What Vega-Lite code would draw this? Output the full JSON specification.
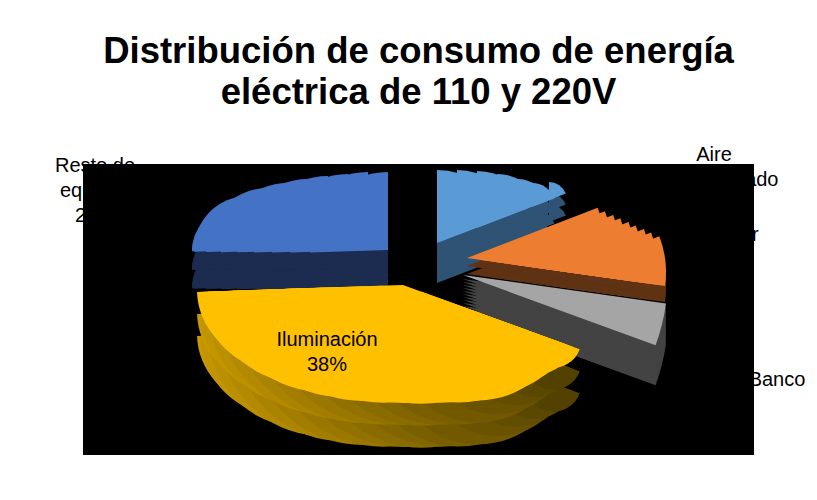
{"$schema":"https://vega.github.io/schema/vega-lite/v6.json","width":671,"height":291,"padding":{"left":83,"top":164,"right":63,"bottom":45},"autosize":{"type":"none"},"background":"white","view":{"fill":"black","stroke":null},
"title":{"text":["Distribución de consumo de energía","eléctrica de 110 y 220V"],"font":"Liberation Sans","fontSize":36.5,"fontWeight":"bold","color":"black","anchor":"middle","offset":-3,"lineHeight":41,"baseline":"bottom"},
"data":{"values":[{"name":"Aire acondicionado","label":"Aire\nacondicionado\n13%","value":13,"order":1},{"name":"Motor","label":"Motor\n15%","value":15,"order":2},{"name":"Banco","label":"Banco","value":8,"order":3},{"name":"Iluminación","label":"Iluminación\n38%","value":38,"order":4},{"name":"Resto de equipos","label":"Resto de\nequipos\n26%","value":26,"order":5}]},
"transform":[{"stack":"value","sort":[{"field":"order"}],"as":["v0","v1"]}],
"encoding":{"theta":{"field":"v0","type":"quantitative","stack":null,"scale":{"domain":[0,13,28,36,74,100],"range":[0,1.204,1.71,1.92,4.68,6.283]}},"theta2":{"field":"v1"}},
"layer":[
{"transform":[{"filter":"datum.order==1"}],"layer":[
{"mark":{"type":"arc","outerRadius":73,"fill":"#2F5375","xOffset":18.5,"yOffset":-26.5}},{"mark":{"type":"arc","outerRadius":65,"fill":"#2F5375","xOffset":38.5,"yOffset":-37.5}},{"mark":{"type":"arc","outerRadius":57,"fill":"#2F5375","xOffset":58.5,"yOffset":-47.5}},{"mark":{"type":"arc","outerRadius":46,"fill":"#2F5375","xOffset":78.5,"yOffset":-58.5}},{"mark":{"type":"arc","outerRadius":33,"fill":"#2F5375","xOffset":98.5,"yOffset":-69.5}},{"mark":{"type":"arc","outerRadius":24,"fill":"#2F5375","xOffset":113.5,"yOffset":-77.5}},{"mark":{"type":"arc","outerRadius":18,"fill":"#2F5375","xOffset":130.5,"yOffset":-87.5}},
{"mark":{"type":"arc","outerRadius":73,"fill":"#2F5375","xOffset":18.5,"yOffset":-46.5}},{"mark":{"type":"arc","outerRadius":65,"fill":"#2F5375","xOffset":38.5,"yOffset":-56}},{"mark":{"type":"arc","outerRadius":57,"fill":"#2F5375","xOffset":58.5,"yOffset":-64.5}},{"mark":{"type":"arc","outerRadius":46,"fill":"#2F5375","xOffset":78.5,"yOffset":-74}},{"mark":{"type":"arc","outerRadius":33,"fill":"#2F5375","xOffset":98.5,"yOffset":-83.5}},{"mark":{"type":"arc","outerRadius":24,"fill":"#2F5375","xOffset":113.5,"yOffset":-90}},{"mark":{"type":"arc","outerRadius":18,"fill":"#2F5375","xOffset":130.5,"yOffset":-98.5}},
{"mark":{"type":"arc","outerRadius":73,"fill":"#5B9BD5","xOffset":18.5,"yOffset":-66.5}},{"mark":{"type":"arc","outerRadius":65,"fill":"#5B9BD5","xOffset":38.5,"yOffset":-74.5}},{"mark":{"type":"arc","outerRadius":57,"fill":"#5B9BD5","xOffset":58.5,"yOffset":-81.5}},{"mark":{"type":"arc","outerRadius":46,"fill":"#5B9BD5","xOffset":78.5,"yOffset":-89.5}},{"mark":{"type":"arc","outerRadius":33,"fill":"#5B9BD5","xOffset":98.5,"yOffset":-97.5}},{"mark":{"type":"arc","outerRadius":24,"fill":"#5B9BD5","xOffset":113.5,"yOffset":-102.5}},{"mark":{"type":"arc","outerRadius":18,"fill":"#5B9BD5","xOffset":130.5,"yOffset":-109.5}}]},
{"transform":[{"filter":"datum.order==5"}],"layer":[
{"mark":{"type":"arc","outerRadius":78,"fill":"#1B2C50","xOffset":-30.5,"yOffset":-22.5}},{"mark":{"type":"arc","outerRadius":78,"fill":"#1B2C50","xOffset":-50.5,"yOffset":-22.5}},{"mark":{"type":"arc","outerRadius":76,"fill":"#1B2C50","xOffset":-70.5,"yOffset":-22.5}},{"mark":{"type":"arc","outerRadius":74,"fill":"#1B2C50","xOffset":-90.5,"yOffset":-22.5}},{"mark":{"type":"arc","outerRadius":71,"fill":"#1B2C50","xOffset":-110.5,"yOffset":-22.5}},{"mark":{"type":"arc","outerRadius":67,"fill":"#1B2C50","xOffset":-130.5,"yOffset":-22.5}},{"mark":{"type":"arc","outerRadius":62,"fill":"#1B2C50","xOffset":-150.5,"yOffset":-22.5}},{"mark":{"type":"arc","outerRadius":54,"fill":"#1B2C50","xOffset":-170.5,"yOffset":-22.5}},{"mark":{"type":"arc","outerRadius":41,"fill":"#1B2C50","xOffset":-185.5,"yOffset":-22.5}},{"mark":{"type":"arc","outerRadius":26,"fill":"#1B2C50","xOffset":-200.5,"yOffset":-22.5}},
{"mark":{"type":"arc","outerRadius":78,"fill":"#1B2C50","xOffset":-30.5,"yOffset":-41}},{"mark":{"type":"arc","outerRadius":78,"fill":"#1B2C50","xOffset":-50.5,"yOffset":-41}},{"mark":{"type":"arc","outerRadius":76,"fill":"#1B2C50","xOffset":-70.5,"yOffset":-41}},{"mark":{"type":"arc","outerRadius":74,"fill":"#1B2C50","xOffset":-90.5,"yOffset":-41}},{"mark":{"type":"arc","outerRadius":71,"fill":"#1B2C50","xOffset":-110.5,"yOffset":-41}},{"mark":{"type":"arc","outerRadius":67,"fill":"#1B2C50","xOffset":-130.5,"yOffset":-41}},{"mark":{"type":"arc","outerRadius":62,"fill":"#1B2C50","xOffset":-150.5,"yOffset":-41}},{"mark":{"type":"arc","outerRadius":54,"fill":"#1B2C50","xOffset":-170.5,"yOffset":-41}},{"mark":{"type":"arc","outerRadius":41,"fill":"#1B2C50","xOffset":-185.5,"yOffset":-41}},{"mark":{"type":"arc","outerRadius":26,"fill":"#1B2C50","xOffset":-200.5,"yOffset":-41}},
{"mark":{"type":"arc","outerRadius":78,"fill":"#4472C4","xOffset":-30.5,"yOffset":-59.5}},{"mark":{"type":"arc","outerRadius":78,"fill":"#4472C4","xOffset":-50.5,"yOffset":-59.5}},{"mark":{"type":"arc","outerRadius":76,"fill":"#4472C4","xOffset":-70.5,"yOffset":-59.5}},{"mark":{"type":"arc","outerRadius":74,"fill":"#4472C4","xOffset":-90.5,"yOffset":-59.5}},{"mark":{"type":"arc","outerRadius":71,"fill":"#4472C4","xOffset":-110.5,"yOffset":-59.5}},{"mark":{"type":"arc","outerRadius":67,"fill":"#4472C4","xOffset":-130.5,"yOffset":-59.5}},{"mark":{"type":"arc","outerRadius":62,"fill":"#4472C4","xOffset":-150.5,"yOffset":-59.5}},{"mark":{"type":"arc","outerRadius":54,"fill":"#4472C4","xOffset":-170.5,"yOffset":-59.5}},{"mark":{"type":"arc","outerRadius":41,"fill":"#4472C4","xOffset":-185.5,"yOffset":-59.5}},{"mark":{"type":"arc","outerRadius":26,"fill":"#4472C4","xOffset":-200.5,"yOffset":-59.5}}]},
{"transform":[{"filter":"datum.order==3"}],"layer":[
{"mark":{"type":"arc","outerRadius":205,"fill":"#434343","xOffset":44.5,"yOffset":5.5}},{"mark":{"type":"arc","outerRadius":205,"fill":"#434343","xOffset":44.5,"yOffset":2.5}},{"mark":{"type":"arc","outerRadius":205,"fill":"#434343","xOffset":44.5,"yOffset":-0.5}},{"mark":{"type":"arc","outerRadius":205,"fill":"#434343","xOffset":44.5,"yOffset":-3.5}},{"mark":{"type":"arc","outerRadius":205,"fill":"#434343","xOffset":44.5,"yOffset":-6.5}},{"mark":{"type":"arc","outerRadius":205,"fill":"#434343","xOffset":44.5,"yOffset":-9.5}},{"mark":{"type":"arc","outerRadius":205,"fill":"#434343","xOffset":44.5,"yOffset":-12.5}},{"mark":{"type":"arc","outerRadius":205,"fill":"#434343","xOffset":44.5,"yOffset":-15.5}},{"mark":{"type":"arc","outerRadius":205,"fill":"#434343","xOffset":44.5,"yOffset":-18.5}},{"mark":{"type":"arc","outerRadius":205,"fill":"#434343","xOffset":44.5,"yOffset":-21.5}},{"mark":{"type":"arc","outerRadius":205,"fill":"#434343","xOffset":44.5,"yOffset":-24.5}},{"mark":{"type":"arc","outerRadius":205,"fill":"#434343","xOffset":44.5,"yOffset":-27.5}},{"mark":{"type":"arc","outerRadius":205,"fill":"#434343","xOffset":44.5,"yOffset":-30.5}},
{"mark":{"type":"arc","outerRadius":205,"fill":"#A5A5A5","xOffset":44.5,"yOffset":-34.5}}]},
{"transform":[{"filter":"datum.order==2"}],"layer":[
{"mark":{"type":"arc","outerRadius":140,"fill":"#5F3214","xOffset":48.5,"yOffset":-35.5}},{"mark":{"type":"arc","outerRadius":135,"fill":"#5F3214","xOffset":60.4,"yOffset":-33.8}},{"mark":{"type":"arc","outerRadius":130,"fill":"#5F3214","xOffset":73.3,"yOffset":-32}},{"mark":{"type":"arc","outerRadius":125,"fill":"#5F3214","xOffset":85.1,"yOffset":-30.3}},{"mark":{"type":"arc","outerRadius":120,"fill":"#5F3214","xOffset":98,"yOffset":-28.5}},{"mark":{"type":"arc","outerRadius":115,"fill":"#5F3214","xOffset":109.9,"yOffset":-26.8}},{"mark":{"type":"arc","outerRadius":110,"fill":"#5F3214","xOffset":122.8,"yOffset":-25}},{"mark":{"type":"arc","outerRadius":105,"fill":"#5F3214","xOffset":134.6,"yOffset":-23.3}},{"mark":{"type":"arc","outerRadius":100,"fill":"#5F3214","xOffset":147.5,"yOffset":-21.5}},
{"mark":{"type":"arc","outerRadius":140,"fill":"#5F3214","xOffset":48.5,"yOffset":-43.5}},{"mark":{"type":"arc","outerRadius":135,"fill":"#5F3214","xOffset":60.4,"yOffset":-41.8}},{"mark":{"type":"arc","outerRadius":130,"fill":"#5F3214","xOffset":73.3,"yOffset":-40}},{"mark":{"type":"arc","outerRadius":125,"fill":"#5F3214","xOffset":85.1,"yOffset":-38.3}},{"mark":{"type":"arc","outerRadius":120,"fill":"#5F3214","xOffset":98,"yOffset":-36.5}},{"mark":{"type":"arc","outerRadius":115,"fill":"#5F3214","xOffset":109.9,"yOffset":-34.8}},{"mark":{"type":"arc","outerRadius":110,"fill":"#5F3214","xOffset":122.8,"yOffset":-33}},{"mark":{"type":"arc","outerRadius":105,"fill":"#5F3214","xOffset":134.6,"yOffset":-31.3}},{"mark":{"type":"arc","outerRadius":100,"fill":"#5F3214","xOffset":147.5,"yOffset":-29.5}},
{"mark":{"type":"arc","outerRadius":140,"fill":"#ED7D31","xOffset":48.5,"yOffset":-51.5}},{"mark":{"type":"arc","outerRadius":135,"fill":"#ED7D31","xOffset":60.4,"yOffset":-49.8}},{"mark":{"type":"arc","outerRadius":130,"fill":"#ED7D31","xOffset":73.3,"yOffset":-48}},{"mark":{"type":"arc","outerRadius":125,"fill":"#ED7D31","xOffset":85.1,"yOffset":-46.3}},{"mark":{"type":"arc","outerRadius":120,"fill":"#ED7D31","xOffset":98,"yOffset":-44.5}},{"mark":{"type":"arc","outerRadius":115,"fill":"#ED7D31","xOffset":109.9,"yOffset":-42.8}},{"mark":{"type":"arc","outerRadius":110,"fill":"#ED7D31","xOffset":122.8,"yOffset":-41}},{"mark":{"type":"arc","outerRadius":105,"fill":"#ED7D31","xOffset":134.6,"yOffset":-39.3}},{"mark":{"type":"arc","outerRadius":100,"fill":"#ED7D31","xOffset":147.5,"yOffset":-37.5}}]},
{"transform":[{"filter":"datum.order==4"}],"layer":[
{"mark":{"type":"arc","outerRadius":25,"fill":"#D4A200","xOffset":-180.5,"yOffset":25.3}},{"mark":{"type":"arc","outerRadius":54,"fill":"#CF9E00","xOffset":-165.5,"yOffset":24.7}},{"mark":{"type":"arc","outerRadius":71,"fill":"#C99A00","xOffset":-150.5,"yOffset":24.2}},{"mark":{"type":"arc","outerRadius":83,"fill":"#C29500","xOffset":-135.5,"yOffset":23.7}},{"mark":{"type":"arc","outerRadius":95,"fill":"#BA8F00","xOffset":-115.5,"yOffset":23}},{"mark":{"type":"arc","outerRadius":104,"fill":"#B28900","xOffset":-95.5,"yOffset":22.3}},{"mark":{"type":"arc","outerRadius":110,"fill":"#AA8300","xOffset":-75.5,"yOffset":21.6}},{"mark":{"type":"arc","outerRadius":114.5,"fill":"#A27D00","xOffset":-55.5,"yOffset":20.9}},{"mark":{"type":"arc","outerRadius":117,"fill":"#9A7700","xOffset":-35.5,"yOffset":20.2}},{"mark":{"type":"arc","outerRadius":118,"fill":"#927100","xOffset":-15.5,"yOffset":19.5}},{"mark":{"type":"arc","outerRadius":112,"fill":"#8A6B00","xOffset":3.3,"yOffset":26.3}},{"mark":{"type":"arc","outerRadius":104,"fill":"#826500","xOffset":22.1,"yOffset":33.2}},{"mark":{"type":"arc","outerRadius":97,"fill":"#7A5F00","xOffset":40.9,"yOffset":40}},{"mark":{"type":"arc","outerRadius":88,"fill":"#725900","xOffset":59.7,"yOffset":46.9}},{"mark":{"type":"arc","outerRadius":73,"fill":"#6A5300","xOffset":78.5,"yOffset":53.7}},{"mark":{"type":"arc","outerRadius":57,"fill":"#624D00","xOffset":97.3,"yOffset":60.5}},{"mark":{"type":"arc","outerRadius":42,"fill":"#5A4700","xOffset":116.1,"yOffset":67.4}},{"mark":{"type":"arc","outerRadius":28,"fill":"#524100","xOffset":134.9,"yOffset":74.2}},
{"mark":{"type":"arc","outerRadius":25,"fill":"#D4A200","xOffset":-180.5,"yOffset":3.3}},{"mark":{"type":"arc","outerRadius":54,"fill":"#CF9E00","xOffset":-165.5,"yOffset":2.7}},{"mark":{"type":"arc","outerRadius":71,"fill":"#C99A00","xOffset":-150.5,"yOffset":2.2}},{"mark":{"type":"arc","outerRadius":83,"fill":"#C29500","xOffset":-135.5,"yOffset":1.7}},{"mark":{"type":"arc","outerRadius":95,"fill":"#BA8F00","xOffset":-115.5,"yOffset":1}},{"mark":{"type":"arc","outerRadius":104,"fill":"#B28900","xOffset":-95.5,"yOffset":0.3}},{"mark":{"type":"arc","outerRadius":110,"fill":"#AA8300","xOffset":-75.5,"yOffset":-0.4}},{"mark":{"type":"arc","outerRadius":114.5,"fill":"#A27D00","xOffset":-55.5,"yOffset":-1.1}},{"mark":{"type":"arc","outerRadius":117,"fill":"#9A7700","xOffset":-35.5,"yOffset":-1.8}},{"mark":{"type":"arc","outerRadius":118,"fill":"#927100","xOffset":-15.5,"yOffset":-2.5}},{"mark":{"type":"arc","outerRadius":112,"fill":"#8A6B00","xOffset":3.3,"yOffset":4.3}},{"mark":{"type":"arc","outerRadius":104,"fill":"#826500","xOffset":22.1,"yOffset":11.2}},{"mark":{"type":"arc","outerRadius":97,"fill":"#7A5F00","xOffset":40.9,"yOffset":18}},{"mark":{"type":"arc","outerRadius":88,"fill":"#725900","xOffset":59.7,"yOffset":24.9}},{"mark":{"type":"arc","outerRadius":73,"fill":"#6A5300","xOffset":78.5,"yOffset":31.7}},{"mark":{"type":"arc","outerRadius":57,"fill":"#624D00","xOffset":97.3,"yOffset":38.5}},{"mark":{"type":"arc","outerRadius":42,"fill":"#5A4700","xOffset":116.1,"yOffset":45.4}},{"mark":{"type":"arc","outerRadius":28,"fill":"#524100","xOffset":134.9,"yOffset":52.2}},
{"mark":{"type":"arc","outerRadius":25,"fill":"#FFC000","xOffset":-180.5,"yOffset":-18.7}},{"mark":{"type":"arc","outerRadius":54,"fill":"#FFC000","xOffset":-165.5,"yOffset":-19.3}},{"mark":{"type":"arc","outerRadius":71,"fill":"#FFC000","xOffset":-150.5,"yOffset":-19.8}},{"mark":{"type":"arc","outerRadius":83,"fill":"#FFC000","xOffset":-135.5,"yOffset":-20.3}},{"mark":{"type":"arc","outerRadius":95,"fill":"#FFC000","xOffset":-115.5,"yOffset":-21}},{"mark":{"type":"arc","outerRadius":104,"fill":"#FFC000","xOffset":-95.5,"yOffset":-21.7}},{"mark":{"type":"arc","outerRadius":110,"fill":"#FFC000","xOffset":-75.5,"yOffset":-22.4}},{"mark":{"type":"arc","outerRadius":114.5,"fill":"#FFC000","xOffset":-55.5,"yOffset":-23.1}},{"mark":{"type":"arc","outerRadius":117,"fill":"#FFC000","xOffset":-35.5,"yOffset":-23.8}},{"mark":{"type":"arc","outerRadius":118,"fill":"#FFC000","xOffset":-15.5,"yOffset":-24.5}},{"mark":{"type":"arc","outerRadius":112,"fill":"#FFC000","xOffset":3.3,"yOffset":-17.7}},{"mark":{"type":"arc","outerRadius":104,"fill":"#FFC000","xOffset":22.1,"yOffset":-10.8}},{"mark":{"type":"arc","outerRadius":97,"fill":"#FFC000","xOffset":40.9,"yOffset":-4}},{"mark":{"type":"arc","outerRadius":88,"fill":"#FFC000","xOffset":59.7,"yOffset":2.9}},{"mark":{"type":"arc","outerRadius":73,"fill":"#FFC000","xOffset":78.5,"yOffset":9.7}},{"mark":{"type":"arc","outerRadius":57,"fill":"#FFC000","xOffset":97.3,"yOffset":16.5}},{"mark":{"type":"arc","outerRadius":42,"fill":"#FFC000","xOffset":116.1,"yOffset":23.4}},{"mark":{"type":"arc","outerRadius":28,"fill":"#FFC000","xOffset":134.9,"yOffset":30.2}}]},
{"transform":[{"filter":"datum.order==4"}],"mark":{"type":"text","font":"Liberation Sans","fontSize":20,"lineBreak":"\n","lineHeight":25,"color":"black","xOffset":-91.5,"yOffset":30.5},"encoding":{"text":{"field":"label"},"theta":{"value":0},"theta2":{"value":0}}},
{"transform":[{"filter":"datum.order==5"}],"mark":{"type":"text","font":"Liberation Sans","fontSize":20,"lineBreak":"\n","lineHeight":25,"color":"black","xOffset":-323.5,"yOffset":-143.5},"encoding":{"text":{"field":"label"},"theta":{"value":0},"theta2":{"value":0}}},
{"transform":[{"filter":"datum.order==1"}],"mark":{"type":"text","font":"Liberation Sans","fontSize":20,"lineBreak":"\n","lineHeight":25,"color":"black","xOffset":295.5,"yOffset":-154.5},"encoding":{"text":{"field":"label"},"theta":{"value":0},"theta2":{"value":0}}},
{"transform":[{"filter":"datum.order==2"}],"mark":{"type":"text","font":"Liberation Sans","fontSize":20,"lineBreak":"\n","lineHeight":25,"color":"black","xOffset":314.5,"yOffset":-74.5},"encoding":{"text":{"field":"label"},"theta":{"value":0},"theta2":{"value":0}}},
{"transform":[{"filter":"datum.order==3"}],"mark":{"type":"text","font":"Liberation Sans","fontSize":20,"lineBreak":"\n","lineHeight":25,"color":"black","xOffset":358.5,"yOffset":70.5},"encoding":{"text":{"field":"label"},"theta":{"value":0},"theta2":{"value":0}}}
]}
